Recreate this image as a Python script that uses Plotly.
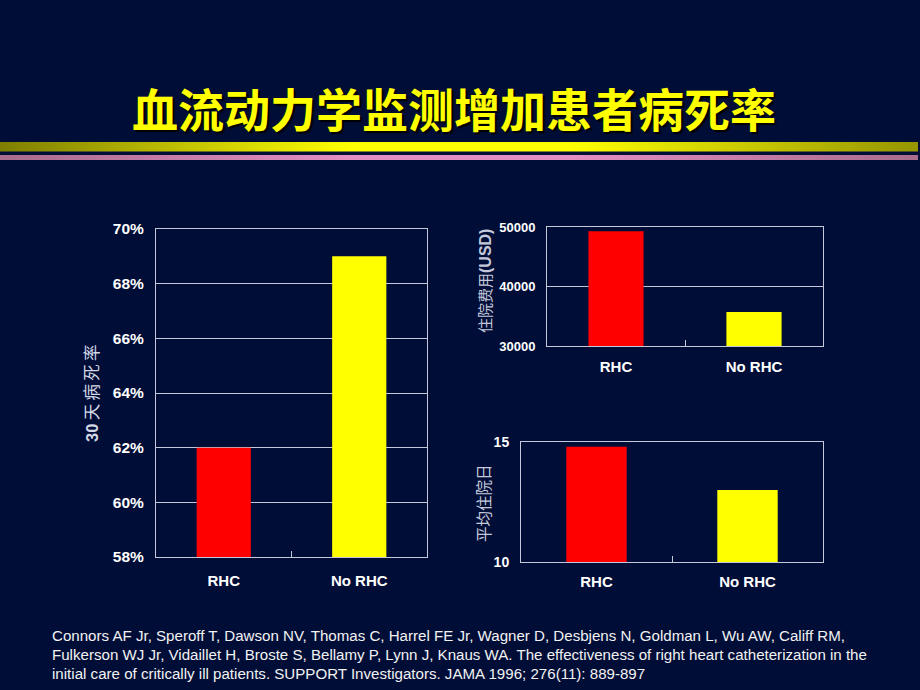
import plotly.graph_objects as go

# data
groups = ["RHC", "No RHC"]
mortality_30d = [0.62, 0.69]
hospital_cost = [49300, 35700]
hospital_days = [14.8, 13.0]
bar_colors = ["#FF0000", "#FFFF00"]

title_text = "血流动力学监测增加患者病死率"
citation_lines = [
    "Connors AF Jr, Speroff T, Dawson NV, Thomas C, Harrel FE Jr, Wagner D, Desbjens N, Goldman L, Wu AW, Califf RM,",
    "Fulkerson WJ Jr, Vidaillet H, Broste S, Bellamy P, Lynn J, Knaus WA. The effectiveness of right heart catheterization in the",
    "initial care of critically ill patients. SUPPORT Investigators. JAMA 1996; 276(11): 889-897",
]

W, H = 920, 690
BG = "#000D37"
LINE = "#C4C8DA"
SANS = "Liberation Sans, Arial, sans-serif"
CJK = "Noto Sans CJK SC, sans-serif"

fig = go.Figure()

fig.add_trace(go.Bar(x=groups, y=mortality_30d, marker_color=bar_colors,
                     marker_line_width=0, xaxis="x", yaxis="y"))
fig.add_trace(go.Bar(x=groups, y=hospital_cost, marker_color=bar_colors,
                     marker_line_width=0, xaxis="x2", yaxis="y2"))
fig.add_trace(go.Bar(x=groups, y=hospital_days, marker_color=bar_colors,
                     marker_line_width=0, xaxis="x3", yaxis="y3"))

# decorative gradient bands under the title (overlay axis in pixel units)
fig.add_trace(go.Scatter(
    x=[0, 918, 918, 0, 0], y=[142, 142, 151.5, 151.5, 142],
    mode="lines", line_width=0, fill="toself", hoverinfo="skip",
    fillgradient=dict(type="horizontal",
                      colorscale=[[0, "#7E7E00"], [0.38, "#FFFF00"],
                                  [0.62, "#FFFF00"], [1, "#959500"]]),
    xaxis="x4", yaxis="y4"))
fig.add_trace(go.Scatter(
    x=[0, 918, 918, 0, 0], y=[155, 155, 160, 160, 155],
    mode="lines", line_width=0, fill="toself", hoverinfo="skip",
    fillgradient=dict(type="horizontal",
                      colorscale=[[0, "#A86C8C"], [0.38, "#E48EC4"],
                                  [0.62, "#E48EC4"], [1, "#A86C8C"]]),
    xaxis="x4", yaxis="y4"))


def px_x(a, b):
    return [a / W, b / W]


def px_y(top, bottom):
    return [1 - bottom / H, 1 - top / H]


def tick_font(size):
    return dict(family=SANS, size=size, color="white", weight="bold")


xcommon = dict(showline=True, mirror=True, linecolor=LINE, linewidth=1,
               ticks="inside", tickson="boundaries", ticklen=6, tickcolor=LINE,
               showgrid=False, fixedrange=True, automargin=False,
               tickfont=tick_font(15))
ycommon = dict(showline=True, mirror=True, linecolor=LINE, linewidth=1,
               showgrid=True, gridcolor=LINE, gridwidth=1, ticks="",
               zeroline=False, fixedrange=True, ticklabelstandoff=8,
               automargin=False)

fig.update_layout(
    width=W, height=H,
    paper_bgcolor=BG, plot_bgcolor="rgba(0,0,0,0)",
    margin=dict(l=0, r=0, t=0, b=0, pad=0, autoexpand=False),
    showlegend=False,
    bargap=0.6,
    xaxis=dict(domain=px_x(156, 427), anchor="y", ticklabelstandoff=10, **xcommon),
    yaxis=dict(domain=px_y(229, 557), anchor="x", range=[0.58, 0.70], dtick=0.02,
               tickformat=".0%", tickfont=tick_font(15.5), **ycommon),
    xaxis2=dict(domain=px_x(547, 823), anchor="y2", ticklabelstandoff=7, **xcommon),
    yaxis2=dict(domain=px_y(227, 346), anchor="x2", range=[30000, 50000], dtick=10000,
                tickformat="d", tickfont=tick_font(13), **ycommon),
    xaxis3=dict(domain=px_x(521, 823), anchor="y3", ticklabelstandoff=6, **xcommon),
    yaxis3=dict(domain=px_y(442, 562), anchor="x3", range=[10, 15], dtick=5,
                tickfont=tick_font(14), **ycommon),
    xaxis4=dict(domain=[0, 1], range=[0, W], visible=False, fixedrange=True,
                anchor="y4", automargin=False),
    yaxis4=dict(domain=[0, 1], range=[H, 0], visible=False, fixedrange=True,
                anchor="x4", automargin=False),
)

ts = "\u2009"
annotations = [
    dict(text=title_text, x=454 / W, y=1 - 107 / H,
         font=dict(family=CJK, size=46, color="#FFFF00", weight="bold",
                   shadow="2px 2px 1px #000000")),
    dict(text="<b style='font-family:Liberation Sans'>30</b>" + ts + ts.join("天病死率"),
         x=91 / W, y=1 - 393 / H, textangle=-90,
         font=dict(family=CJK, size=16.5, color="#D4D8E6")),
    dict(text="住院费用<b style='font-family:Liberation Sans;font-size:16px'>(USD)</b>",
         x=485 / W, y=1 - 281 / H, textangle=-90,
         font=dict(family=CJK, size=15, color="#C4C8DA")),
    dict(text="平均住院日", x=483 / W, y=1 - 503 / H, textangle=-90,
         font=dict(family=CJK, size=15.5, color="#C4C8DA")),
]
for i, line in enumerate(citation_lines):
    annotations.append(dict(text=line, x=50 / W, y=1 - (635 + 19 * i) / H,
                            xanchor="left",
                            font=dict(family=SANS, size=15.1, color="#F2F2F2")))
for a in annotations:
    a.setdefault("xref", "paper")
    a.setdefault("yref", "paper")
    a.setdefault("showarrow", False)
    a.setdefault("yanchor", "middle")
    a.setdefault("xanchor", "center")
fig.update_layout(annotations=annotations)

fig.write_html("out.html", config={"displayModeBar": False},
               post_script="document.body.style.margin='0';")
